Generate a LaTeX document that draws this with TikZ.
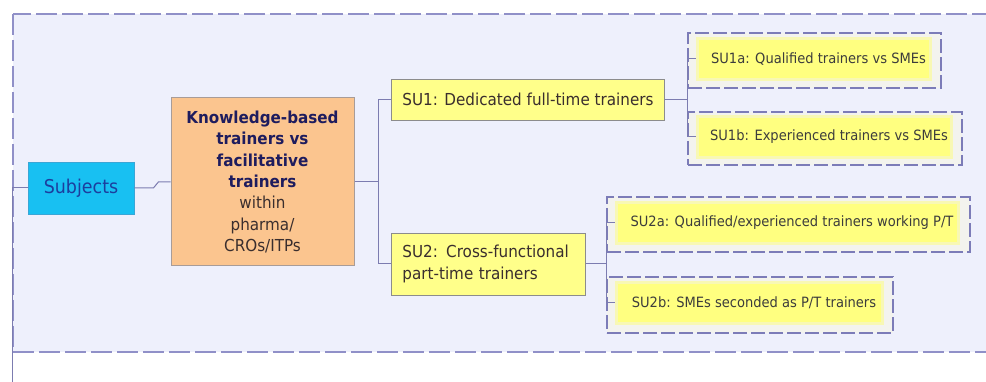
\documentclass[tikz,border=0pt]{standalone}
\usepackage{fontspec}
\setmainfont[FakeStretch=0.92]{DejaVu Sans}
\usetikzlibrary{positioning}

\definecolor{framebg}{HTML}{EEF0FC}
\definecolor{framec}{HTML}{9090C8}
\definecolor{boxdash}{HTML}{7C7CB8}
\definecolor{boxbg}{HTML}{F3F3EE}
\definecolor{subjfill}{HTML}{18C0F2}
\definecolor{subjline}{HTML}{3AA6D6}
\definecolor{subjtext}{HTML}{1C3E9E}
\definecolor{kbfill}{HTML}{FBC58F}
\definecolor{kbline}{HTML}{A89C98}
\definecolor{navy}{HTML}{1E1C5E}
\definecolor{bodytext}{HTML}{3A2E2E}
\definecolor{sufill}{HTML}{FFFF8A}
\definecolor{suline}{HTML}{8C8C8C}
\definecolor{link}{HTML}{7C7CB0}
\definecolor{glowin}{HTML}{FFFF80}
\definecolor{glowout}{HTML}{F8F8B4}
\definecolor{smalltext}{HTML}{3C3C3C}

% heading lines of the central box
\newcommand\kbhead[1]{{\bfseries\color{navy}#1}}

\tikzset{
  outerframe/.style={draw=framec, line width=2pt, dash pattern=on 21pt off 5pt, fill=framebg},
  subjbox/.style={fill=subjfill, draw=subjline, line width=0.8pt, text=subjtext,
    font=\fontsize{19}{22}\selectfont, minimum width=106pt, minimum height=52pt, inner sep=0pt},
  kbbox/.style={fill=kbfill, draw=kbline, line width=1pt, text=bodytext, align=center,
    font=\fontsize{16.5}{21.3}\selectfont, minimum width=183pt, minimum height=168pt, inner sep=0pt},
  subox/.style={fill=sufill, draw=suline, line width=0.9pt, text=bodytext,
    font=\fontsize{16.5}{22}\selectfont, inner sep=0pt, anchor=west},
  dashbox/.style={draw=boxdash, fill=boxbg, line width=2pt, dash pattern=on 14pt off 4pt,
    inner sep=0pt},
  glowbox/.style={fill=glowin, draw=glowout, line width=3pt, text=smalltext,
    font=\fontsize{14.2}{16}\selectfont, inner sep=0pt, anchor=west},
  linkline/.style={draw=link, line width=1pt},
}

\begin{document}
\begin{tikzpicture}[x=1pt, y=-1pt]
  \useasboundingbox (0,0) rectangle (986,382);
  \clip (0,0) rectangle (986,382);
  \fill[white] (0,0) rectangle (986,382);

  % surrounding dashed frame, running past the right edge
  \draw[outerframe] (13,14) rectangle (1010,352);

  % dashed holders of the leaf items
  \node[dashbox, minimum width=253pt, minimum height=55pt] (su1aframe) at (814.5,60.5) {};
  \node[dashbox, minimum width=274pt, minimum height=53pt] (su1bframe) at (825,138.5) {};
  \node[dashbox, minimum width=363pt, minimum height=55pt] (su2aframe) at (788.5,224.5) {};
  \node[dashbox, minimum width=286pt, minimum height=56pt] (su2bframe) at (750,305) {};

  % main nodes
  \node[subjbox] (subj) at (81,188) {Subjects};
  \node[kbbox] (kb) at (262.5,182)
    {\kbhead{Knowledge-based}\\\kbhead{trainers vs}\\\kbhead{facilitative}\\\kbhead{trainers}\\within\\pharma/\\CROs/ITPs};
  \node[subox, minimum width=273pt, minimum height=41pt] (su1) at (391,99.5)
    {SU1: Dedicated full-time trainers};
  \node[subox, minimum width=194pt, minimum height=62pt, align=left, text width=172pt,
        inner xsep=11pt] (su2) at (391,264)
    {SU2: Cross-functional\\part-time trainers};

  % leaf items
  \node[glowbox, minimum width=233pt, minimum height=41pt] (su1a) at (696,59)
    {\hspace*{9pt}SU1a: Qualified trainers vs SMEs};
  \node[glowbox, minimum width=254pt, minimum height=41pt] (su1b) at (696,137)
    {\hspace*{9pt}SU1b: Experienced trainers vs SMEs};
  \node[glowbox, minimum width=342pt, minimum height=41pt] (su2a) at (615,223)
    {\hspace*{9pt}SU2a: Qualified/experienced trainers working P/T};
  \node[glowbox, minimum width=266pt, minimum height=41pt] (su2b) at (615,303)
    {\hspace*{9pt}SU2b: SMEs seconded as P/T trainers};

  % connectors
  \coordinate (trunk) at (12,382);
  \draw[linkline] (trunk) |- (subj.west);
  \draw[linkline] (subj.east) -- ++(19,0) -- ++(5,-6) -- (kb.west);

  \draw[linkline] (kb.east) -- ++(24,0) coordinate (j1);
  \draw[linkline] (j1) |- (su1.west);
  \draw[linkline] (j1) |- (su2.west);

  \draw[linkline] (su1.east) -- (687,99.5) coordinate (j2);
  \draw[linkline] (j2) |- (su1a.west);
  \draw[linkline] (j2) |- (su1b.west);

  \draw[linkline] (su2.east) -- (606,264) coordinate (j3);
  \draw[linkline] (j3) |- (su2a.west);
  \draw[linkline] (j3) |- (su2b.west);
\end{tikzpicture}
\end{document}
